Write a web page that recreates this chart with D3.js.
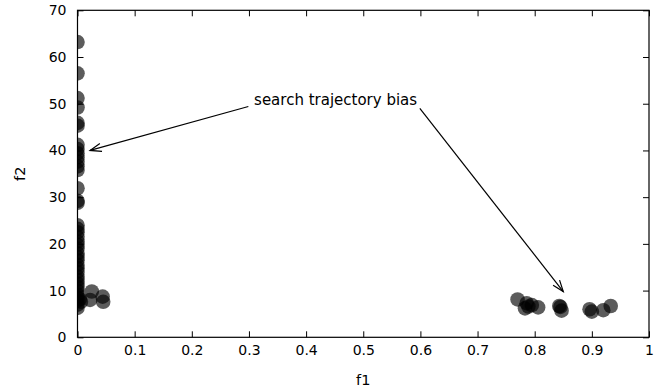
<!DOCTYPE html>
<html>
<head>
<meta charset="utf-8">
<script src="https://cdn.jsdelivr.net/npm/d3@7"></script>
<style>
  html, body { margin: 0; padding: 0; background: #fff; }
  svg text { font-family: "DejaVu Sans", sans-serif; fill: #000; }
</style>
</head>
<body>
<svg id="chart" width="667" height="392"></svg>
<script>
// Objective values of the solutions (f1, f2)
const f1 = [
  0, 0, 0, 0, 0, 0, 0, 0, 0, 0, 0, 0, 0, 0, 0, 0,
  0, 0, 0, 0, 0, 0, 0, 0, 0, 0, 0, 0, 0, 0, 0, 0, 0, 0, 0, 0, 0, 0, 0,
  0.004, 0.006, 0.022, 0.025, 0.044, 0.045,
  0.770, 0.783, 0.786, 0.789, 0.795, 0.806,
  0.843, 0.845, 0.847,
  0.896, 0.900, 0.920, 0.933
];
const f2 = [
  63.2, 56.5, 51.2, 49.2, 45.9, 45.3, 41.2, 40.3, 39.4, 38.5, 37.6, 36.6, 35.8, 31.9, 29.2, 28.8,
  24.0, 23.2, 22.5, 21.5, 20.5, 19.8, 19.0, 18.0, 17.2, 16.5, 15.5, 14.8, 14.0, 13.0, 12.3, 11.5, 10.8, 10.0, 9.2, 8.5, 7.8, 7.0, 6.3,
  8.2, 7.6, 8.0, 9.8, 8.7, 7.6,
  8.1, 6.2, 7.3, 6.6, 6.9, 6.4,
  6.7, 6.5, 5.7,
  6.0, 5.5, 5.8, 6.7
];

const xTicks = [0, 0.1, 0.2, 0.3, 0.4, 0.5, 0.6, 0.7, 0.8, 0.9, 1];
const yTicks = [0, 10, 20, 30, 40, 50, 60, 70];

// Annotation: label position and arrow endpoints in data units
const noteText = "search trajectory bias";
const notePos = [0.309, 50.8];
const arrowFrom = [[0.299, 49.4], [0.599, 49.0]];
const arrowTo = [[0.022, 40.0], [0.850, 9.8]];

const svg = d3.select("#chart");
const L = 77.5, R = 649, T = 10.3, B = 337.3;
const x = d3.scaleLinear().domain([0, 1]).range([L, R]);
const y = d3.scaleLinear().domain([0, 70]).range([B, T]);
const fmt = d3.format("~g");
const tick = 6;
const fs = 14.5;

svg.append("defs").append("clipPath").attr("id", "plot-clip")
  .append("rect").attr("x", L).attr("y", T).attr("width", R - L).attr("height", B - T);

// Points
svg.append("g").attr("clip-path", "url(#plot-clip)")
  .selectAll("circle").data(f1.map((v, i) => [v, f2[i]])).join("circle")
  .attr("cx", d => x(d[0])).attr("cy", d => y(d[1])).attr("r", 7.3)
  .attr("fill", "#000").attr("fill-opacity", 0.64);

// Axes: ticks inward, mirrored on the opposite sides
function style(g) {
  g.select(".domain").remove();
  g.selectAll(".tick line").attr("stroke", "#000").attr("stroke-width", 1);
  g.selectAll(".tick text").attr("font-size", 14);
}
svg.append("g").attr("transform", `translate(0,${B})`)
  .call(d3.axisBottom(x).tickValues(xTicks).tickFormat(fmt).tickSizeInner(-tick).tickSizeOuter(0).tickPadding(8))
  .call(style);
svg.append("g").attr("transform", `translate(0,${T})`)
  .call(d3.axisTop(x).tickValues(xTicks).tickFormat("").tickSizeInner(-tick).tickSizeOuter(0))
  .call(style);
svg.append("g").attr("transform", `translate(${L},0)`)
  .call(d3.axisLeft(y).tickValues(yTicks).tickFormat(fmt).tickSizeInner(-tick).tickSizeOuter(0).tickPadding(11))
  .call(style);
svg.append("g").attr("transform", `translate(${R},0)`)
  .call(d3.axisRight(y).tickValues(yTicks).tickFormat("").tickSizeInner(-tick).tickSizeOuter(0))
  .call(style);

svg.append("rect").attr("x", L).attr("y", T).attr("width", R - L).attr("height", B - T)
  .attr("fill", "none").attr("stroke", "#000").attr("stroke-width", 1.2);

// Axis titles
svg.append("text").attr("x", (L + R) / 2).attr("y", 385).attr("text-anchor", "middle")
  .attr("font-size", fs).text("f1");
svg.append("text").attr("transform", `translate(25,${(T + B) / 2}) rotate(-90)`)
  .attr("text-anchor", "middle").attr("font-size", fs).text("f2");

// Annotation label and arrows with open heads
svg.append("text").attr("x", x(notePos[0])).attr("y", y(notePos[1]) + 5)
  .attr("font-size", 15).text(noteText);

const heads = svg.append("g").attr("stroke", "#000").attr("stroke-width", 1.2).attr("fill", "none");
arrowFrom.forEach((p, i) => {
  const x0 = x(p[0]), y0 = y(p[1]), x1 = x(arrowTo[i][0]), y1 = y(arrowTo[i][1]);
  heads.append("line").attr("x1", x0).attr("y1", y0).attr("x2", x1).attr("y2", y1);
  const a = Math.atan2(y1 - y0, x1 - x0), len = 12, spread = 0.35;
  const pts = [
    [x1 - len * Math.cos(a - spread), y1 - len * Math.sin(a - spread)],
    [x1, y1],
    [x1 - len * Math.cos(a + spread), y1 - len * Math.sin(a + spread)]
  ];
  heads.append("path").attr("d", d3.line()(pts));
});
</script>
</body>
</html>
